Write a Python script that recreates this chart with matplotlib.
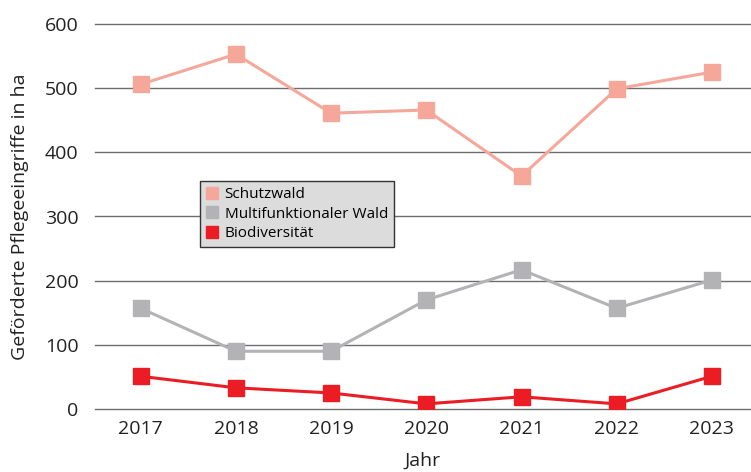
import matplotlib
matplotlib.use("Agg")
import matplotlib.pyplot as plt

plt.rcParams['font.family'] = ['Open Sans', 'DejaVu Sans']

years = [2017, 2018, 2019, 2020, 2021, 2022, 2023]
schutzwald = [506, 553, 461, 466, 363, 499, 525]
multifunktional = [157, 90, 90, 170, 217, 157, 201]
biodiversitaet = [51, 33, 25, 8, 19, 8, 51]

fig = plt.figure(figsize=(7.51, 4.72), dpi=100)
ax = fig.add_axes([95/751, 1 - 409/472, 655/751, 385/472])

ax.plot(years, schutzwald, color="#f5a89a", lw=2.2, marker="s", ms=11, label="Schutzwald", zorder=3)
ax.plot(years, multifunktional, color="#b3b3b6", lw=2.2, marker="s", ms=11, label="Multifunktionaler Wald", zorder=3)
ax.plot(years, biodiversitaet, color="#ec1c24", lw=2.2, marker="s", ms=11, label="Biodiversität", zorder=3)

ax.set_ylim(0, 600)
ax.set_xlim(2016.52, 2023.4)
ax.set_yticks(range(0, 601, 100))
ax.set_xticks(years)
ax.yaxis.grid(True, color="#6e6e6e", lw=1)
for gl in ax.yaxis.get_gridlines():
    gl.set_clip_on(False)
ax.set_axisbelow(True)
for s in ax.spines.values():
    s.set_visible(False)
ax.tick_params(axis="both", length=0, labelsize=14, colors="#222222")
ax.tick_params(axis="y", pad=12)
ax.tick_params(axis="x", pad=8)

ax.set_xlabel("Jahr", fontsize=14, color="#222222", labelpad=10)
ax.set_ylabel("Geförderte Pflegeeingriffe in ha", fontsize=14, color="#222222", labelpad=11)

leg = ax.legend(loc="upper left", bbox_to_anchor=(0.149, 0.612), fontsize=11,
                frameon=True, fancybox=False, handlelength=0.8, handletextpad=0.4,
                borderpad=0.4, labelspacing=0.3, markerscale=0.85)
leg.get_frame().set_facecolor("#dcdcdd")
leg.get_frame().set_edgecolor("#333333")
leg.get_frame().set_alpha(1)
for h in leg.legend_handles:
    h.set_linestyle("none")

fig.savefig("out.png", dpi=100)
